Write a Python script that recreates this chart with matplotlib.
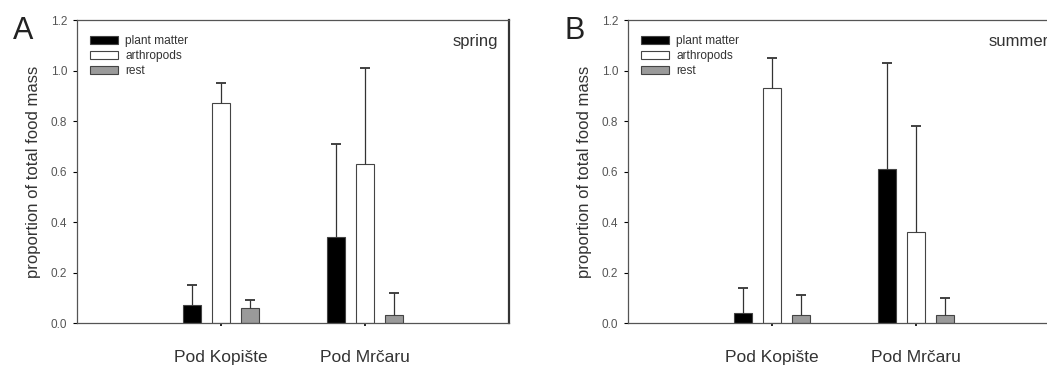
import matplotlib.pyplot as plt
plt.switch_backend('agg')
import numpy as np
from matplotlib.patches import Patch

plt.rcParams['font.family'] = ['Liberation Sans', 'DejaVu Sans']

sites = ["Pod Kopište", "Pod Mrčaru"]
categories = ["plant matter", "arthropods", "rest"]

# panel A (spring): mean and upper error bar end
spring_plant = [0.07, 0.34]
spring_plant_top = [0.15, 0.71]
spring_arthro = [0.87, 0.63]
spring_arthro_top = [0.95, 1.01]
spring_rest = [0.06, 0.03]
spring_rest_top = [0.09, 0.12]

# panel B (summer)
summer_plant = [0.04, 0.61]
summer_plant_top = [0.14, 1.03]
summer_arthro = [0.93, 0.36]
summer_arthro_top = [1.05, 0.78]
summer_rest = [0.03, 0.03]
summer_rest_top = [0.11, 0.10]

yticks = [0.0, 0.2, 0.4, 0.6, 0.8, 1.0, 1.2]

fill_colors = ["black", "white", "#9a9a9a"]
text_col = "#333333"


def panel(ax, means, tops, letter, season):
    x = np.arange(1, len(sites) + 1)
    width = 0.125
    offsets = [-0.2, 0.0, 0.2]
    for m, t, off, c in zip(means, tops, offsets, fill_colors):
        ax.bar(x + off, m, width, color=c, edgecolor="#444444", linewidth=0.8, zorder=2)
        # upper error bar only, cap at the top end
        ax.vlines(x + off, m, t, color="#333333", linewidth=0.9, zorder=3)
        ax.plot(x + off, t, linestyle="none", marker="_", markersize=7,
                markeredgewidth=1.3, color="#333333", zorder=3)

    ax.set_xlim(0, 3)
    ax.set_ylim(0, 1.2)
    ax.set_yticks(yticks)
    ax.set_yticklabels(["%.1f" % v for v in yticks], fontsize=8.5, color="#555555")
    ax.set_xticks(x)
    ax.set_xticklabels(sites, fontsize=12.5, color=text_col)
    ax.tick_params(axis="x", length=2.5, width=1.2, direction="out", pad=17)
    ax.tick_params(axis="y", length=3, direction="out", pad=4)
    for s in ["top", "left", "bottom"]:
        ax.spines[s].set_linewidth(0.9)
        ax.spines[s].set_color("#555555")
    ax.spines["right"].set_linewidth(1.6)
    ax.spines["right"].set_color("#333333")

    ax.set_ylabel("proportion of total food mass", fontsize=12, color=text_col, labelpad=7)
    ax.text(0.975, 0.93, season, transform=ax.transAxes, ha="right", va="center",
            fontsize=12, color=text_col)
    ax.text(-0.148, 0.965, letter, transform=ax.transAxes, ha="left", va="center",
            fontsize=22, color="#222222")

    handles = [Patch(facecolor=c, edgecolor="#444444", linewidth=0.8) for c in fill_colors]
    ax.legend(handles, categories, loc="upper left", bbox_to_anchor=(0.02, 0.965),
              frameon=False, fontsize=8.6, handlelength=2.3, handleheight=0.67,
              labelspacing=0.25, handletextpad=0.6, borderaxespad=0,
              labelcolor=text_col)


fig = plt.figure(figsize=(10.47, 3.65), dpi=100)
ax1 = fig.add_axes([0.0735, 0.115, 0.4126, 0.830])
ax2 = fig.add_axes([0.5998, 0.115, 0.4126, 0.830])

panel(ax1, [spring_plant, spring_arthro, spring_rest],
      [spring_plant_top, spring_arthro_top, spring_rest_top], "A", "spring")
panel(ax2, [summer_plant, summer_arthro, summer_rest],
      [summer_plant_top, summer_arthro_top, summer_rest_top], "B", "summer")

fig.savefig("out.png", dpi=100)
